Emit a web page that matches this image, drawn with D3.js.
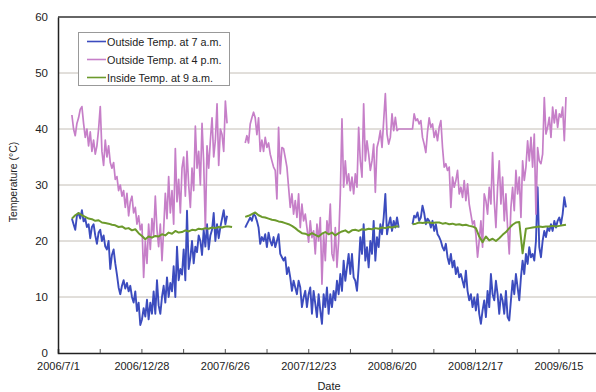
<!DOCTYPE html>
<html><head><meta charset="utf-8">
<script src="https://cdn.jsdelivr.net/npm/d3@7"></script>
<style>
html,body{margin:0;padding:0;background:#fff;}
svg{display:block;font-family:"Liberation Sans",Arial,sans-serif;}
</style></head>
<body><svg id="c" width="596" height="392"></svg>
<script>
// ---- data (days since 2006/7/1, values in °C) ----
const seriesNames = ["Outside Temp. at 7 a.m.", "Outside Temp. at 4 p.m.", "Inside Temp. at 9 a.m."];
const xTickDays = [0, 90, 180, 270, 360, 450, 540, 630, 720, 810, 900, 990, 1080, 1170];
const yTicks = [0, 10, 20, 30, 40, 50, 60];
const segStartDays = [30, 404, 765];
const stepDays = 3.6;
const greenStepDays = 7.2;

const blue1 = [24,23,22,24.5,25,24,25.5,23.5,24,22.5,23,20.5,22.5,23,21,19.5,21.5,22,20,21,19,18.5,20,15,17.5,18.5,16,14,11.7,10.5,12,13,11.5,12.5,11,12,10,9,11,7.5,9,5,6,8,6.5,9.5,6,9,7,11,7,13,8.5,7,10,12,9,13.5,10,12.5,11,15.5,10,19,13,15,14,18.5,13,25.4,15,17,20,16,19,18,21,20,17.5,22,19,23,18.5,21,22,25,20,23,20.5,22.5,24,25.5,23,24.5];
const pink1 = [42.5,40,38.8,41,42,43.5,44,41,38.5,40,37,39.5,36,38,35.5,37,40,44,36,33.5,38,35,37,34,33,34,31,31.5,29,30,28,29,26,28.5,24.5,27,28,25,26,23,24.5,22,23,13.5,20,16,23,18.5,24,21,28,22,19,23,16.5,22,28.5,24,31.5,25,29,23,36.5,27,31,25,33,35,28,36,30,26,33,29,40.5,33,36,30,41,34,22,37,33,38,42,35,38,44.5,33.5,40,39,36,45,41];
const green1 = [24.0,24.6,25.0,24.6,24.3,24.0,23.9,23.6,23.7,23.3,23.2,23.1,22.9,22.8,22.5,22.6,22.2,22.3,21.9,22.1,21.4,20.9,20.3,20.8,20.6,20.9,20.8,21.2,21.0,21.5,21.3,21.8,21.5,21.6,21.9,21.7,22.0,21.9,22.2,22.1,22.3,22.2,22.4,22.3,22.5,22.4,22.6,22.6,22.5];

const blue2 = [22.4,23,23.6,24.2,23.6,24.8,24.5,23.6,22.4,19.5,20.7,20,21.2,18.9,21.5,20,19.2,20.7,18.9,20,21.2,17.7,17.1,16.5,17.1,14.1,15.3,13.5,11.1,12.9,11.7,10.5,12.9,11.7,8.2,9.9,11.1,8.2,10.5,11.7,7,11.1,8.8,6.4,10.5,7.6,5.2,10.5,8.2,11.7,7,10.5,8.2,11.1,9.4,12.9,10.5,14.1,11.1,16.5,12.9,15.3,17.7,14.1,17.7,13.5,12.9,11.1,15.3,20.7,17.7,23,16.5,18.9,15.3,20,17.7,23.6,16.5,20.7,18.9,23,21.2,24.2,28.4,21.2,23,24.2,21.8,23.6,22.4,24.2,22.4];
const pink2 = [37.5,38.8,37.5,40.9,42,43,42,39,42,36,38,36,38.5,36.7,37.5,35.5,34.3,33.2,32.6,27.5,40.3,32,36.7,36.5,34.9,33.2,29.6,26,28.4,24.8,27.2,24.2,28.4,22.4,26.6,23.6,24.8,22.4,19.8,23.6,20.6,21.8,17.7,23,20,24.2,12.3,21.2,16.5,23.6,21.2,26.6,17.7,16.5,22.4,15.3,20,28.4,41.8,29.6,34.3,30.2,32,29,31.4,28.4,32,29.6,40.3,34.3,31.4,44.5,34.3,37.9,35.5,32.6,34.3,37.3,28.7,36.7,37.9,39.7,36.7,41.5,46.3,39.1,37.3,38.5,42.7,39.7,42.1,39.7,40];
const green2 = [24.3,24.5,24.8,25.1,24.6,24.3,24.2,24.0,23.8,23.7,23.5,23.4,23.2,23.0,22.7,22.3,21.8,21.4,21.3,21.0,21.4,21.1,20.8,21.3,21.6,21.2,21.5,21.0,21.4,21.7,21.9,21.5,21.9,22.0,21.8,22.1,22.0,22.2,22.1,22.3,22.2,22.4,22.3,22.5,22.4,22.6,22.6];

const blue3 = [23,24.5,24.2,25.1,23.6,24.2,26.3,25,23,24,23.6,22.4,23.6,21.8,23,21.2,20.7,20,18.9,18.3,19.5,17.1,15.9,17.7,15.3,16.5,14.1,15.3,13.5,14.1,12.9,11.7,14.7,11.1,9.4,10.5,8.2,9.9,7.6,10.5,7,5.2,7.6,9.4,6.4,11.1,8.2,14.1,10.5,9.4,12.9,10.5,7,10.5,9.4,7,11.1,6.4,5.8,9.4,12.9,10.5,14.1,11.7,9.4,13.5,16.5,14.1,17.7,15.9,18.9,17.1,17.7,16.5,20,29.6,18.9,17.1,20,21.8,20.7,22.4,21.8,23,21.8,23.6,22.4,23.6,24.2,23,24.8,27.8,26];
const pink3 = [40,42.7,41.5,41.8,40.9,41.5,38.5,37.3,35.8,39.5,42,40.3,40.9,38.5,39.7,37.9,40.3,41.5,36.7,33.2,33.8,32.6,33.2,26,31.4,29.6,30.8,32.6,28.4,29.6,27.8,30.8,27.2,30.2,26.6,24.8,23,23.6,21.2,17.1,20.1,23.6,18.9,28.4,27.2,24.8,29.6,26.6,35.8,27.2,22.4,29.6,34.3,26.6,31.4,23.6,28.4,22.4,17.7,26,29.6,25.4,32.6,28.4,31.4,24.2,34.3,30.8,33.2,37.9,34.3,38.5,33.2,39.1,24.8,36.7,34.3,33.8,35.5,45.6,39.1,40.3,42.1,38.5,43.9,41.1,43.4,40.3,42.7,42.1,43.9,37.9,45.7];
const green3 = [23.0,23.1,23.3,23.2,23.3,23.3,23.2,23.3,23.3,23.1,23.2,23.0,23.1,22.9,23.0,22.8,22.9,22.7,22.6,22.3,20.8,19.8,20.8,20.1,20.4,20.0,20.5,21.1,21.6,22.3,22.9,23.3,23.4,17.8,22.2,22.3,22.4,22.5,22.6,22.5,22.6,22.6,22.7,22.6,22.7,22.8,22.9];

// ---- layout ----
const W = 596, H = 392;
const m = {left: 58, top: 17, bottom: 353};
const pxPerDay = 0.4634;
const base = Date.UTC(2006, 6, 1);
const dayToDate = d => new Date(base + d * 864e5);

const x = d3.scaleUtc()
  .domain([dayToDate(0), dayToDate(1260)])
  .range([m.left, m.left + 1260 * pxPerDay]);
const y = d3.scaleLinear().domain([0, 60]).range([m.bottom, m.top]);

const svg = d3.select("#c");

const colors = {blue: "#3c4cbe", pink: "#c67fc8", green: "#6c9a2c"};

// gridlines
svg.append("g").selectAll("line")
  .data(yTicks.filter(t => t > 0 && t < 60))
  .join("line")
  .attr("x1", m.left).attr("x2", W)
  .attr("y1", d => y(d)).attr("y2", d => y(d))
  .attr("stroke", "#c4beb6").attr("stroke-width", 1);

// top border
svg.append("line").attr("x1", m.left).attr("x2", W)
  .attr("y1", y(60)).attr("y2", y(60))
  .attr("stroke", "#333").attr("stroke-width", 1.5);

// build series
function pts(vals, start, step) {
  return vals.map((v, i) => ({d: dayToDate(start + i * step), v}));
}
const line = d3.line().x(p => x(p.d)).y(p => y(p.v));

const lines = [
  {c: colors.blue, w: 1.9, data: pts(blue1, segStartDays[0], stepDays)},
  {c: colors.blue, w: 1.9, data: pts(blue2, segStartDays[1], stepDays)},
  {c: colors.blue, w: 1.9, data: pts(blue3, segStartDays[2], stepDays)},
  {c: colors.pink, w: 1.7, data: pts(pink1, segStartDays[0], stepDays)},
  {c: colors.pink, w: 1.7, data: pts(pink2, segStartDays[1], stepDays).concat(pts(pink3, segStartDays[2], stepDays))},
  {c: colors.green, w: 2, data: pts(green1, segStartDays[0], greenStepDays)},
  {c: colors.green, w: 2, data: pts(green2, segStartDays[1], greenStepDays)},
  {c: colors.green, w: 2, data: pts(green3, segStartDays[2], greenStepDays)}
];
svg.append("g").selectAll("path").data(lines).join("path")
  .attr("d", s => line(s.data))
  .attr("fill", "none")
  .attr("stroke", s => s.c)
  .attr("stroke-width", s => s.w)
  .attr("stroke-linejoin", "round");

// axes
const fmt = d3.utcFormat("%Y/%-m/%-d");
const xAxis = d3.axisBottom(x)
  .tickValues(xTickDays.map(dayToDate))
  .tickSize(-4)
  .tickFormat((d, i) => xTickDays[i] % 180 === 0 ? fmt(d) : "");
const gx = svg.append("g").attr("transform", `translate(0,${m.bottom})`).call(xAxis);
gx.select(".domain").attr("stroke", "#222").attr("stroke-width", 1.5);
gx.selectAll(".tick line").attr("stroke", "#555");
gx.selectAll("text").attr("y", 17).attr("dy", 0).attr("fill", "#222").attr("font-size", 11);

const yAxis = d3.axisLeft(y).tickValues(yTicks).tickSize(0).tickPadding(10);
const gy = svg.append("g").attr("transform", `translate(${m.left},0)`).call(yAxis);
gy.select(".domain").attr("stroke", "#222").attr("stroke-width", 1.5);
gy.selectAll("text").attr("fill", "#222").attr("font-size", 11.5);

// axis titles
svg.append("text").attr("transform", "translate(17,182) rotate(-90)")
  .attr("text-anchor", "middle").attr("font-size", 10.5).attr("fill", "#222")
  .text("Temperature (°C)");
svg.append("text").attr("x", 329).attr("y", 390).attr("text-anchor", "middle")
  .attr("font-size", 11).attr("fill", "#222").text("Date");

// legend
const lg = svg.append("g");
lg.append("rect").attr("x", 78.5).attr("y", 32.5).attr("width", 151).attr("height", 53)
  .attr("fill", "#fff").attr("stroke", "#999");
const legCols = [colors.blue, colors.pink, colors.green];
seriesNames.forEach((n, i) => {
  const yy = 41.5 + i * 18;
  lg.append("line").attr("x1", 87).attr("x2", 106).attr("y1", yy).attr("y2", yy)
    .attr("stroke", legCols[i]).attr("stroke-width", 1.6);
  lg.append("text").attr("x", 107).attr("y", yy + 4).attr("font-size", 10.8)
    .attr("fill", "#222").text(n);
});
</script></body></html>
